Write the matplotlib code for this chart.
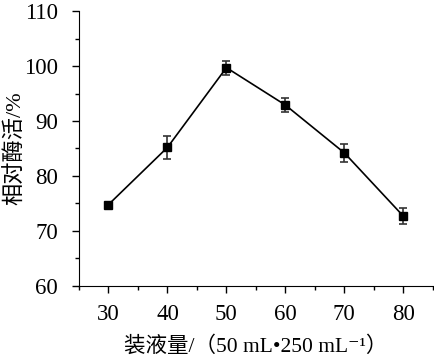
import matplotlib
matplotlib.use('Agg')
import matplotlib.pyplot as plt
from matplotlib.ticker import MultipleLocator

# data
volume = [30, 40, 50, 60, 70, 80]
activity = [74.8, 85.2, 99.7, 92.9, 84.2, 72.7]
err = [0.3, 2.1, 1.3, 1.2, 1.7, 1.5]

fonts = ['Liberation Serif', 'Noto Sans CJK SC', 'DejaVu Sans']
plt.rcParams['font.family'] = fonts

fig = plt.figure(figsize=(4.35, 3.61), dpi=100)
ax = fig.add_axes([0.1816, 0.2078, 0.8134, 0.7617])

ax.errorbar(volume, activity, yerr=err, color='black', ecolor='#333333',
            elinewidth=1.2, capsize=3, capthick=1.2,
            marker='s', markersize=6, linewidth=1.2)

ax.set_xlim(25, 85)
ax.set_ylim(60, 110)
ax.xaxis.set_major_locator(MultipleLocator(10))
ax.xaxis.set_minor_locator(MultipleLocator(5))
ax.yaxis.set_major_locator(MultipleLocator(10))
ax.yaxis.set_minor_locator(MultipleLocator(5))

ax.spines['top'].set_visible(False)
ax.spines['right'].set_visible(False)
ax.tick_params(which='both', direction='out', width=1, labelsize=16.5)
ax.tick_params(which='major', length=5, pad=8)
ax.tick_params(which='minor', length=3)
ax.tick_params(axis='y', pad=10)

ax.set_xlabel('装液量/（50 mL•250 mL⁻¹）', fontsize=15.5, labelpad=8)
ax.set_ylabel('相对酶活/%', fontsize=16)
ax.yaxis.set_label_coords(-0.15, 0.5)

fig.savefig('out.png', dpi=100)
